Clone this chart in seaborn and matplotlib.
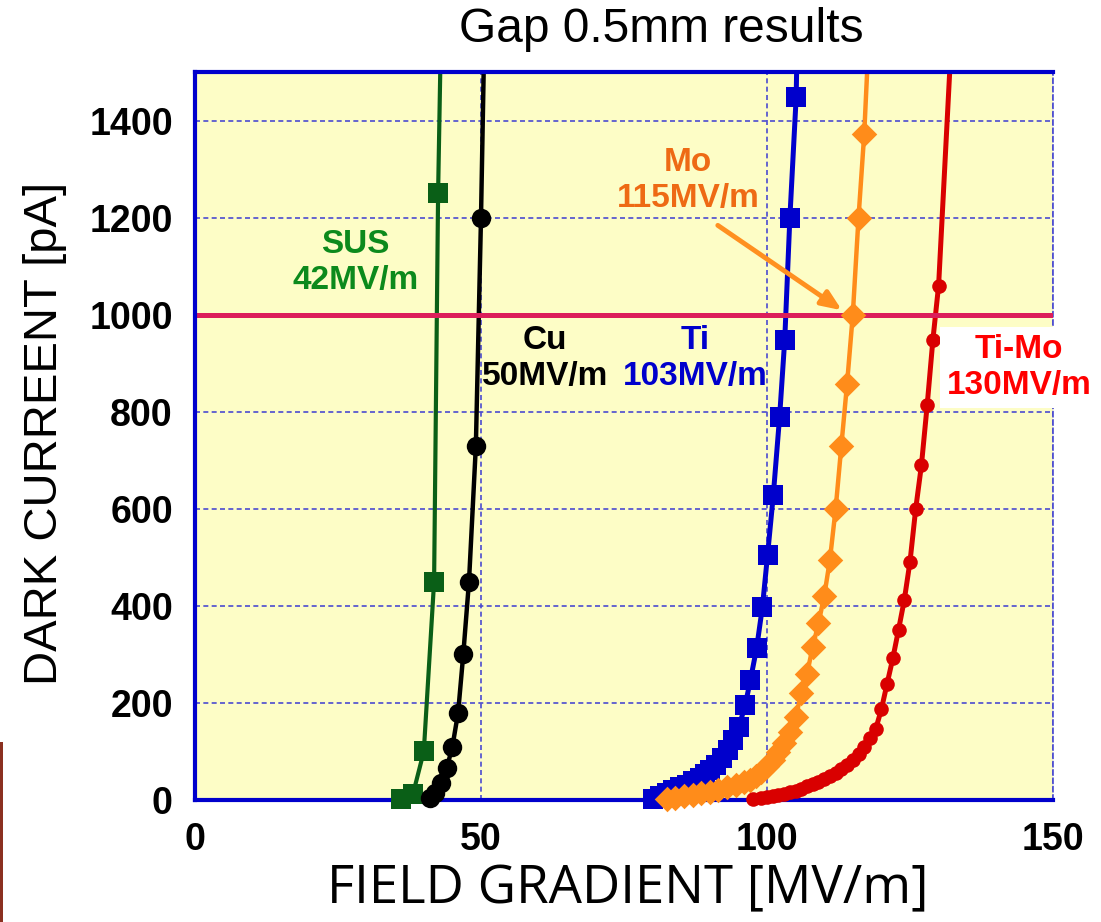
import numpy as np
import pandas as pd
import matplotlib
matplotlib.use("Agg")
import matplotlib.pyplot as plt
from matplotlib.patches import Rectangle
import seaborn as sns

# ---------------- data ----------------
sus_x = [36.0, 38.1, 40.0, 41.8, 42.5, 43.1]
sus_y = [3, 12, 100, 450, 1250, 1650]

cu_x = [41.0, 42.0, 43.0, 44.0, 45.0, 46.0, 46.9, 47.9, 49.1, 50.0, 50.7]
cu_y = [5, 15, 35, 65, 110, 180, 300, 450, 729, 1200, 1650]

ti_x = [80.1, 81.3, 82.5, 83.6, 84.8, 86.0, 87.1, 88.2, 89.2, 90.0, 91.1, 92.1,
        93.1, 94.1, 95.1, 96.2, 97.1, 98.2, 99.2, 100.1, 101.1, 102.2, 103.1,
        104.0, 105.1, 105.4]
ti_y = [3, 8, 15, 21, 26, 31, 39, 45, 54, 62, 72, 86, 103, 124, 151, 196, 247,
        314, 398, 505, 628, 789, 948, 1200, 1448, 1650]

mo_x = [82.5, 84.0, 85.5, 87.0, 88.5, 90.0, 91.5, 93.0, 94.5, 96.0, 97.0, 98.0,
        99.0, 100.0, 101.0, 102.0, 103.0, 104.0, 105.0, 106.0, 107.0, 108.0,
        109.0, 110.0, 111.0, 112.0, 113.0, 114.0, 115.0, 116.0, 117.0, 118.1]
mo_y = [2, 5, 8, 11, 14, 17, 21, 26, 31, 37, 42, 50, 58, 70, 82, 98, 118, 140,
        170, 220, 260, 316, 364, 420, 495, 600, 730, 858, 1000, 1200, 1373, 1650]

timo_x = [97.6, 99.0, 100.0, 101.0, 102.0, 103.0, 104.0, 105.0, 106.0, 107.0,
          108.0, 109.0, 110.0, 111.0, 112.0, 113.0, 114.0, 115.0, 116.0, 117.0,
          118.0, 119.0, 120.0, 121.0, 122.0, 123.0, 124.0, 125.0, 126.0, 127.0,
          128.0, 129.0, 130.0, 132.6]
timo_y = [3, 5, 7, 9, 11, 13, 16, 19, 23, 28, 33, 38, 44, 50, 56, 63, 72, 82, 95,
          110, 127, 146, 187, 240, 292, 351, 412, 491, 600, 690, 813, 948, 1060,
          1650]

threshold = 1000
x_ticks = [0, 50, 100, 150]
y_ticks = [0, 200, 400, 600, 800, 1000, 1200, 1400]

labels = {
    "SUS": ("SUS\n42MV/m", 28.1, 1108),
    "Cu": ("Cu\n50MV/m", 61.2, 910),
    "Ti": ("Ti\n103MV/m", 87.4, 910),
    "Mo": ("Mo\n115MV/m", 86.2, 1276),
    "Ti-Mo": ("Ti-Mo\n130MV/m", 144.1, 891),
}

# ---------------- styling ----------------
sns.set_style("white")
plt.rcParams["font.family"] = ["Liberation Sans", "DejaVu Sans"]
plt.rcParams["text.color"] = "black"
plt.rcParams["xtick.color"] = "black"
plt.rcParams["ytick.color"] = "black"

fig = plt.figure(figsize=(11.01, 9.22), dpi=100)
ax = fig.add_axes([195 / 1101, 122 / 922, 858 / 1101, 728 / 922])
ax.set_facecolor("#FDFDC6")

series = [
    ("SUS", sus_x, sus_y, "#0A5F17", "s", 14, 3.0),
    ("Cu", cu_x, cu_y, "#000000", "o", 14, 3.2),
    ("Ti", ti_x, ti_y, "#0000CC", "s", 14, 3.6),
    ("Mo", mo_x, mo_y, "#FF8C1A", "D", 13, 3.2),
    ("Ti-Mo", timo_x, timo_y, "#D90000", "o", 10.5, 3.6),
]

for name, xs, ys, col, mk, ms, lw in series:
    df = pd.DataFrame({"x": xs, "y": ys})
    sns.lineplot(data=df, x="x", y="y", ax=ax, color=col, linewidth=lw,
                 estimator=None, sort=False, zorder=3)
    dfm = df[df["y"] <= 1500]
    sns.scatterplot(data=dfm, x="x", y="y", ax=ax, color=col, marker=mk,
                    s=ms ** 2, linewidth=0, zorder=5, clip_on=False)

ax.axhline(threshold, color="#DC1E5A", linewidth=3.6, zorder=4)

ax.set_xlim(0, 150)
ax.set_ylim(0, 1500)
ax.set_xticks(x_ticks)
ax.set_yticks(y_ticks)
ax.set_xticklabels([str(v) for v in x_ticks], fontsize=27, fontweight="bold",
                   color="black")
ax.set_yticklabels([str(v) for v in y_ticks], fontsize=27, fontweight="bold",
                   color="black")
ax.tick_params(axis="both", length=0, pad=16)
ax.grid(True, color="#4B4BD0", linestyle=(0, (3, 2)), linewidth=1.2, zorder=1)
ax.set_axisbelow(True)

for side in ["left", "bottom", "top"]:
    ax.spines[side].set_color("#0000CC")
    ax.spines[side].set_linewidth(3.0)
    ax.spines[side].set_zorder(4.5)
ax.spines["right"].set_color("#4B4BD0")
ax.spines["right"].set_linewidth(1.2)
ax.spines["right"].set_linestyle((0, (3, 2)))

ax.set_xlabel("")
ax.set_ylabel("")

fig.text(45 / 1101, 1 - 433 / 922, "DARK CURREENT [pA]", rotation=90,
         ha="center", va="center", fontsize=34, color="black")
fig.text(628 / 1101, 1 - 890 / 922, "FIELD GRADIENT [MV/m]",
         ha="center", va="center", fontsize=38, color="black",
         family=["Open Sans", "DejaVu Sans"])
fig.text(661 / 1101, 1 - 30 / 922, "Gap 0.5mm results",
         ha="center", va="center", fontsize=34.5, color="black")

text_colors = {"SUS": "#0C8A1C", "Cu": "#000000", "Ti": "#0000CC",
               "Mo": "#EE6A14", "Ti-Mo": "#FF0000"}
for key, (txt, tx, ty) in labels.items():
    kw = dict(ha="center", va="center", fontsize=24, fontweight="bold",
              color=text_colors[key], linespacing=1.2, zorder=6)
    if key == "Ti-Mo":
        kw["bbox"] = dict(facecolor="white", edgecolor="none", pad=5)
        kw["clip_on"] = False
    ax.text(tx, ty, txt, **kw)

ax.annotate("", xy=(113.1, 1009), xytext=(91.4, 1184),
            arrowprops=dict(arrowstyle="-|>,head_length=1.2,head_width=0.5",
                            color="#FF9020", lw=3.5, shrinkA=0, shrinkB=0),
            zorder=6)

fig.patches.append(Rectangle((0, 0), 3 / 1101, 180 / 922, transform=fig.transFigure,
                             facecolor="#8B3020", edgecolor="none"))

fig.savefig("out.png", dpi=100)
